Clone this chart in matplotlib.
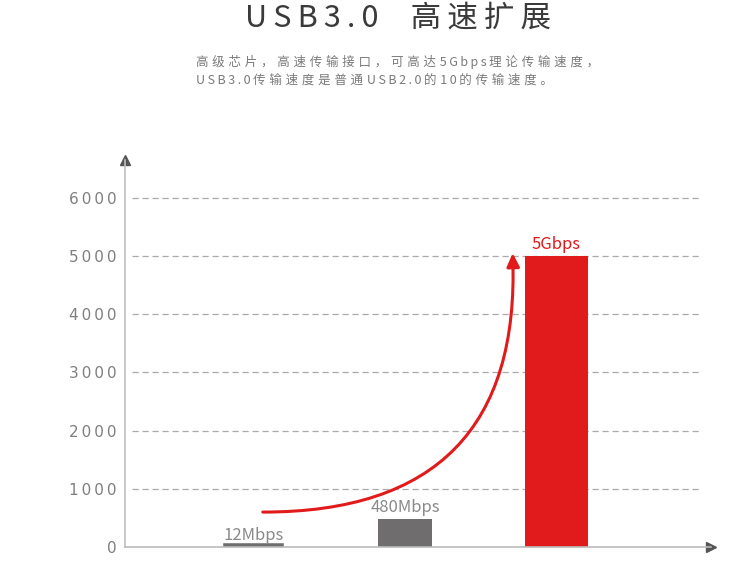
import matplotlib.pyplot as plt

plt.rcParams['font.family'] = ['Noto Sans CJK SC', 'DejaVu Sans']

# Datos
etiquetas = ["12Mbps", "480Mbps", "5Gbps"]
velocidades = [12, 480, 5000]
ticks_y = [0, 1000, 2000, 3000, 4000, 5000, 6000]
titulo = "USB3.0  高速扩展"
subtitulo = ["高级芯片，高速传输接口，可高达5Gbps理论传输速度，",
             "USB3.0传输速度是普通USB2.0的10的传输速度。"]

ROJO = '#e11a1b'
GRIS = '#6f6d6d'
colores = [GRIS, GRIS, ROJO]
colores_txt = ['#8a8a8a', '#8a8a8a', ROJO]
anchos = [0.36, 0.36, 0.42]


def espaciar(s, sep='\u2009', sep_latin=None):
    # separa letra por letra (tracking del diseño original)
    if sep_latin is None:
        sep_latin = sep
    out = ''
    for ch in s[:-1]:
        out += ch + (sep_latin if ch.isascii() else sep)
    return out + s[-1]


fig = plt.figure(figsize=(7.5, 5.61), dpi=100)
ax = fig.add_axes([125 / 750, 14 / 561, 586 / 750, 387 / 561])

x = range(len(velocidades))
# borde solo en la barra pequeña para que se vea
ax.bar(x, velocidades, width=anchos, color=colores,
       edgecolor=colores, linewidth=[4, 0, 0])

for i, (v, lab, c) in enumerate(zip(velocidades, etiquetas, colores_txt)):
    ax.annotate(lab, (i, v), xytext=(0, 2), textcoords='offset points',
                ha='center', va='bottom', color=c, fontsize=12)

# Rejilla punteada
for v in ticks_y[1:]:
    ax.axhline(v, xmin=0.012, xmax=0.981, color='#aaaaaa', lw=0.9,
               ls=(0, (5, 3)), zorder=0)

# Flecha curva
ax.annotate('', xy=(1.71, 5050), xytext=(0.06, 600),
            arrowprops=dict(arrowstyle='-|>,head_length=0.8,head_width=0.38',
                            color=ROJO, lw=2.2, shrinkA=0, shrinkB=0,
                            connectionstyle='arc3,rad=0.52'))

ax.set_xlim(-0.85, 3.02)
ax.set_ylim(0, 6650)
ax.set_xticks([])
ax.set_yticks(ticks_y)
ax.set_yticklabels([espaciar(str(t)) for t in ticks_y],
                   family=['DejaVu Sans'], fontsize=11, color='#7f7f7f')
ax.tick_params(axis='y', length=0, pad=6)

for s in ['top', 'right']:
    ax.spines[s].set_visible(False)
ax.spines['left'].set_color('#c0c0c0')
ax.spines['bottom'].set_color('#bbbbbb')
ax.spines['left'].set_linewidth(1.2)
ax.spines['bottom'].set_linewidth(1.2)

# Puntas de los ejes
ax.plot(0, 1, '^', transform=ax.transAxes, clip_on=False, color='#555555', ms=7)
ax.plot(1, 0, '>', transform=ax.transAxes, clip_on=False, color='#555555', ms=7)

# Títulos
fig.text(0.531, 1 - 18 / 561, espaciar(titulo), ha='center', va='center',
         fontsize=22, color='#3a3a3a', fontweight='light')
for k, linea in enumerate(subtitulo):
    fig.text(196 / 750, 1 - (62 + 18 * k) / 561,
             espaciar(linea, '\u2009\u200a', '\u2009'),
             ha='left', va='center', fontsize=9, color='#7a7a7a')

plt.savefig("out.png")
